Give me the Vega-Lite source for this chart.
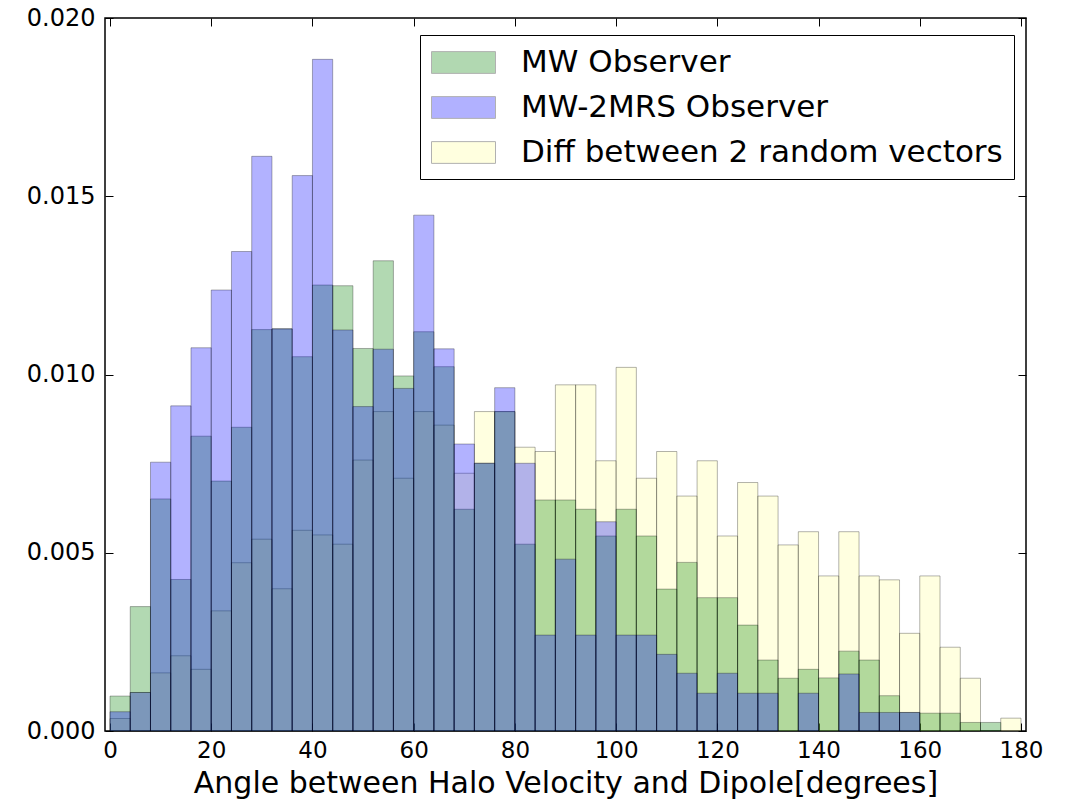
{
  "$schema": "https://vega.github.io/schema/vega-lite/v6.json",
  "width": 921,
  "height": 713,
  "autosize": {"type": "none"},
  "padding": {"left": 105, "top": 18, "right": 48, "bottom": 70},
  "background": "white",
  "config": {
    "font": "DejaVu Sans",
    "view": {"stroke": "black", "strokeWidth": 1.5},
    "axis": {"grid": false, "domain": false, "tickColor": "black", "tickWidth": 1, "tickSize": -8, "labelColor": "black", "labelFont": "DejaVu Sans", "labelFontSize": 24, "labelOverlap": false, "labelFlush": false, "titleFont": "DejaVu Sans", "titleFontWeight": "normal", "titleColor": "black"}
  },
  "data": {
    "values": [
      {"series": "Diff between 2 random vectors", "start": 0, "end": 4, "density": 0.00035},
      {"series": "Diff between 2 random vectors", "start": 4, "end": 8, "density": 0.00108},
      {"series": "Diff between 2 random vectors", "start": 8, "end": 12, "density": 0.00163},
      {"series": "Diff between 2 random vectors", "start": 12, "end": 16, "density": 0.00211},
      {"series": "Diff between 2 random vectors", "start": 16, "end": 20, "density": 0.00173},
      {"series": "Diff between 2 random vectors", "start": 20, "end": 24, "density": 0.00337},
      {"series": "Diff between 2 random vectors", "start": 24, "end": 28, "density": 0.00472},
      {"series": "Diff between 2 random vectors", "start": 28, "end": 32, "density": 0.00538},
      {"series": "Diff between 2 random vectors", "start": 32, "end": 36, "density": 0.00399},
      {"series": "Diff between 2 random vectors", "start": 36, "end": 40, "density": 0.00563},
      {"series": "Diff between 2 random vectors", "start": 40, "end": 44, "density": 0.00550},
      {"series": "Diff between 2 random vectors", "start": 44, "end": 48, "density": 0.00524},
      {"series": "Diff between 2 random vectors", "start": 48, "end": 52, "density": 0.00760},
      {"series": "Diff between 2 random vectors", "start": 52, "end": 56, "density": 0.00896},
      {"series": "Diff between 2 random vectors", "start": 56, "end": 60, "density": 0.00709},
      {"series": "Diff between 2 random vectors", "start": 60, "end": 64, "density": 0.00896},
      {"series": "Diff between 2 random vectors", "start": 64, "end": 68, "density": 0.00858},
      {"series": "Diff between 2 random vectors", "start": 68, "end": 72, "density": 0.00723},
      {"series": "Diff between 2 random vectors", "start": 72, "end": 76, "density": 0.00896},
      {"series": "Diff between 2 random vectors", "start": 76, "end": 80, "density": 0.00896},
      {"series": "Diff between 2 random vectors", "start": 80, "end": 84, "density": 0.00796},
      {"series": "Diff between 2 random vectors", "start": 84, "end": 88, "density": 0.00784},
      {"series": "Diff between 2 random vectors", "start": 88, "end": 92, "density": 0.00971},
      {"series": "Diff between 2 random vectors", "start": 92, "end": 96, "density": 0.00971},
      {"series": "Diff between 2 random vectors", "start": 96, "end": 100, "density": 0.00758},
      {"series": "Diff between 2 random vectors", "start": 100, "end": 104, "density": 0.01020},
      {"series": "Diff between 2 random vectors", "start": 104, "end": 108, "density": 0.00709},
      {"series": "Diff between 2 random vectors", "start": 108, "end": 112, "density": 0.00784},
      {"series": "Diff between 2 random vectors", "start": 112, "end": 116, "density": 0.00659},
      {"series": "Diff between 2 random vectors", "start": 116, "end": 120, "density": 0.00758},
      {"series": "Diff between 2 random vectors", "start": 120, "end": 124, "density": 0.00547},
      {"series": "Diff between 2 random vectors", "start": 124, "end": 128, "density": 0.00697},
      {"series": "Diff between 2 random vectors", "start": 128, "end": 132, "density": 0.00659},
      {"series": "Diff between 2 random vectors", "start": 132, "end": 136, "density": 0.00522},
      {"series": "Diff between 2 random vectors", "start": 136, "end": 140, "density": 0.00559},
      {"series": "Diff between 2 random vectors", "start": 140, "end": 144, "density": 0.00435},
      {"series": "Diff between 2 random vectors", "start": 144, "end": 148, "density": 0.00559},
      {"series": "Diff between 2 random vectors", "start": 148, "end": 152, "density": 0.00435},
      {"series": "Diff between 2 random vectors", "start": 152, "end": 156, "density": 0.00424},
      {"series": "Diff between 2 random vectors", "start": 156, "end": 160, "density": 0.00274},
      {"series": "Diff between 2 random vectors", "start": 160, "end": 164, "density": 0.00435},
      {"series": "Diff between 2 random vectors", "start": 164, "end": 168, "density": 0.00235},
      {"series": "Diff between 2 random vectors", "start": 168, "end": 172, "density": 0.00148},
      {"series": "Diff between 2 random vectors", "start": 176, "end": 180, "density": 0.00036},

      {"series": "MW Observer", "start": 0, "end": 4, "density": 0.00098},
      {"series": "MW Observer", "start": 4, "end": 8, "density": 0.00349},
      {"series": "MW Observer", "start": 8, "end": 12, "density": 0.00651},
      {"series": "MW Observer", "start": 12, "end": 16, "density": 0.00425},
      {"series": "MW Observer", "start": 16, "end": 20, "density": 0.00827},
      {"series": "MW Observer", "start": 20, "end": 24, "density": 0.00701},
      {"series": "MW Observer", "start": 24, "end": 28, "density": 0.00852},
      {"series": "MW Observer", "start": 28, "end": 32, "density": 0.01126},
      {"series": "MW Observer", "start": 32, "end": 36, "density": 0.01128},
      {"series": "MW Observer", "start": 36, "end": 40, "density": 0.01050},
      {"series": "MW Observer", "start": 40, "end": 44, "density": 0.01251},
      {"series": "MW Observer", "start": 44, "end": 48, "density": 0.01249},
      {"series": "MW Observer", "start": 48, "end": 52, "density": 0.01073},
      {"series": "MW Observer", "start": 52, "end": 56, "density": 0.01319},
      {"series": "MW Observer", "start": 56, "end": 60, "density": 0.00996},
      {"series": "MW Observer", "start": 60, "end": 64, "density": 0.01120},
      {"series": "MW Observer", "start": 64, "end": 68, "density": 0.01022},
      {"series": "MW Observer", "start": 68, "end": 72, "density": 0.00622},
      {"series": "MW Observer", "start": 72, "end": 76, "density": 0.00751},
      {"series": "MW Observer", "start": 76, "end": 80, "density": 0.00896},
      {"series": "MW Observer", "start": 80, "end": 84, "density": 0.00524},
      {"series": "MW Observer", "start": 84, "end": 88, "density": 0.00648},
      {"series": "MW Observer", "start": 88, "end": 92, "density": 0.00648},
      {"series": "MW Observer", "start": 92, "end": 96, "density": 0.00622},
      {"series": "MW Observer", "start": 96, "end": 100, "density": 0.00547},
      {"series": "MW Observer", "start": 100, "end": 104, "density": 0.00622},
      {"series": "MW Observer", "start": 104, "end": 108, "density": 0.00547},
      {"series": "MW Observer", "start": 108, "end": 112, "density": 0.00398},
      {"series": "MW Observer", "start": 112, "end": 116, "density": 0.00473},
      {"series": "MW Observer", "start": 116, "end": 120, "density": 0.00374},
      {"series": "MW Observer", "start": 120, "end": 124, "density": 0.00374},
      {"series": "MW Observer", "start": 124, "end": 128, "density": 0.00297},
      {"series": "MW Observer", "start": 128, "end": 132, "density": 0.00199},
      {"series": "MW Observer", "start": 132, "end": 136, "density": 0.00148},
      {"series": "MW Observer", "start": 136, "end": 140, "density": 0.00173},
      {"series": "MW Observer", "start": 140, "end": 144, "density": 0.00149},
      {"series": "MW Observer", "start": 144, "end": 148, "density": 0.00224},
      {"series": "MW Observer", "start": 148, "end": 152, "density": 0.00199},
      {"series": "MW Observer", "start": 152, "end": 156, "density": 0.00099},
      {"series": "MW Observer", "start": 156, "end": 160, "density": 0.00052},
      {"series": "MW Observer", "start": 160, "end": 164, "density": 0.00050},
      {"series": "MW Observer", "start": 164, "end": 168, "density": 0.00050},
      {"series": "MW Observer", "start": 168, "end": 172, "density": 0.00024},
      {"series": "MW Observer", "start": 172, "end": 176, "density": 0.00024},

      {"series": "MW-2MRS Observer", "start": 0, "end": 4, "density": 0.00054},
      {"series": "MW-2MRS Observer", "start": 4, "end": 8, "density": 0.00108},
      {"series": "MW-2MRS Observer", "start": 8, "end": 12, "density": 0.00754},
      {"series": "MW-2MRS Observer", "start": 12, "end": 16, "density": 0.00912},
      {"series": "MW-2MRS Observer", "start": 16, "end": 20, "density": 0.01075},
      {"series": "MW-2MRS Observer", "start": 20, "end": 24, "density": 0.01237},
      {"series": "MW-2MRS Observer", "start": 24, "end": 28, "density": 0.01345},
      {"series": "MW-2MRS Observer", "start": 28, "end": 32, "density": 0.01612},
      {"series": "MW-2MRS Observer", "start": 32, "end": 36, "density": 0.01128},
      {"series": "MW-2MRS Observer", "start": 36, "end": 40, "density": 0.01558},
      {"series": "MW-2MRS Observer", "start": 40, "end": 44, "density": 0.01884},
      {"series": "MW-2MRS Observer", "start": 44, "end": 48, "density": 0.01125},
      {"series": "MW-2MRS Observer", "start": 48, "end": 52, "density": 0.00910},
      {"series": "MW-2MRS Observer", "start": 52, "end": 56, "density": 0.01071},
      {"series": "MW-2MRS Observer", "start": 56, "end": 60, "density": 0.00961},
      {"series": "MW-2MRS Observer", "start": 60, "end": 64, "density": 0.01447},
      {"series": "MW-2MRS Observer", "start": 64, "end": 68, "density": 0.01072},
      {"series": "MW-2MRS Observer", "start": 68, "end": 72, "density": 0.00805},
      {"series": "MW-2MRS Observer", "start": 72, "end": 76, "density": 0.00751},
      {"series": "MW-2MRS Observer", "start": 76, "end": 80, "density": 0.00963},
      {"series": "MW-2MRS Observer", "start": 80, "end": 84, "density": 0.00751},
      {"series": "MW-2MRS Observer", "start": 84, "end": 88, "density": 0.00269},
      {"series": "MW-2MRS Observer", "start": 88, "end": 92, "density": 0.00482},
      {"series": "MW-2MRS Observer", "start": 92, "end": 96, "density": 0.00269},
      {"series": "MW-2MRS Observer", "start": 96, "end": 100, "density": 0.00587},
      {"series": "MW-2MRS Observer", "start": 100, "end": 104, "density": 0.00269},
      {"series": "MW-2MRS Observer", "start": 104, "end": 108, "density": 0.00269},
      {"series": "MW-2MRS Observer", "start": 108, "end": 112, "density": 0.00215},
      {"series": "MW-2MRS Observer", "start": 112, "end": 116, "density": 0.00162},
      {"series": "MW-2MRS Observer", "start": 116, "end": 120, "density": 0.00106},
      {"series": "MW-2MRS Observer", "start": 120, "end": 124, "density": 0.00162},
      {"series": "MW-2MRS Observer", "start": 124, "end": 128, "density": 0.00106},
      {"series": "MW-2MRS Observer", "start": 128, "end": 132, "density": 0.00106},
      {"series": "MW-2MRS Observer", "start": 136, "end": 140, "density": 0.00106},
      {"series": "MW-2MRS Observer", "start": 144, "end": 148, "density": 0.00160},
      {"series": "MW-2MRS Observer", "start": 148, "end": 152, "density": 0.00052},
      {"series": "MW-2MRS Observer", "start": 152, "end": 156, "density": 0.00052},
      {"series": "MW-2MRS Observer", "start": 156, "end": 160, "density": 0.00052}
    ]
  },
  "layer": [
    {
      "mark": {"type": "bar", "fillOpacity": 0.3, "stroke": "black", "strokeWidth": 1, "cornerRadius": 0, "orient": "vertical"},
      "encoding": {
        "x": {"field": "start", "type": "quantitative", "scale": {"domain": [0, 180], "nice": false, "zero": false},
          "axis": {"orient": "bottom", "values": [0, 20, 40, 60, 80, 100, 120, 140, 160, 180], "format": "d", "labelPadding": 16, "labelFontSize": 23,
            "title": "Angle between Halo Velocity and Dipole[degrees]", "titleFontSize": 30, "titlePadding": 6}},
        "x2": {"field": "end"},
        "y": {"field": "density", "type": "quantitative", "stack": null, "scale": {"domain": [0, 0.02], "nice": false},
          "axis": {"orient": "left", "values": [0, 0.005, 0.01, 0.015, 0.02], "format": ".3f", "labelPadding": 18, "title": null}},
        "y2": {"datum": 0},
        "color": {"field": "series", "type": "nominal",
          "scale": {"domain": ["MW Observer", "MW-2MRS Observer", "Diff between 2 random vectors"], "range": ["#008000", "#0000ff", "#ffff98"]},
          "legend": {"orient": "none", "legendX": 315, "legendY": 17, "title": null, "strokeColor": "black", "fillColor": "white",
            "padding": 11, "cornerRadius": 0, "labelFontSize": 31, "labelFont": "DejaVu Sans", "labelColor": "black", "labelLimit": 0,
            "symbolType": "M-2,-0.68H2V0.68H-2Z", "symbolSize": 1024, "symbolOpacity": 0.3, "symbolStrokeColor": "black",
            "symbolStrokeWidth": 1, "symbolOffset": 16, "labelOffset": 41, "rowPadding": 13}},
        "strokeOpacity": {"field": "series", "type": "nominal",
          "scale": {"domain": ["MW Observer", "MW-2MRS Observer", "Diff between 2 random vectors"], "range": [0.3, 0.3, 0.12]},
          "legend": null}
      }
    },
    {
      "mark": {"type": "bar", "opacity": 0, "orient": "vertical"},
      "encoding": {
        "x": {"field": "start", "type": "quantitative",
          "axis": {"orient": "top", "values": [0, 20, 40, 60, 80, 100, 120, 140, 160, 180], "labels": false, "title": null}},
        "x2": {"field": "end"},
        "y": {"field": "density", "type": "quantitative", "stack": null,
          "axis": {"orient": "right", "values": [0, 0.005, 0.01, 0.015, 0.02], "labels": false, "title": null}},
        "y2": {"datum": 0}
      }
    }
  ]
}
